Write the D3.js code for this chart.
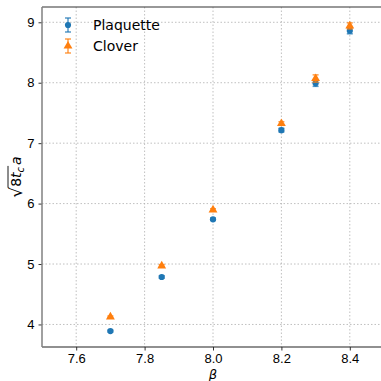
<!DOCTYPE html>
<html>
<head>
<meta charset="utf-8">
<script src="https://cdn.jsdelivr.net/npm/d3@7"></script>
<style>
  body { margin: 0; background: #fff; }
  svg { display: block; font-family: "DejaVu Sans", sans-serif; }
  .tick text { font-size: 13px; fill: #000; }
</style>
</head>
<body>
<div id="chart"></div>
<script>
const betas = [7.7, 7.85, 8.0, 8.2, 8.3, 8.4];
const plaquette = [3.89, 4.785, 5.74, 7.215, 7.99, 8.86];
const plaquetteErr = [0.015, 0.02, 0.02, 0.03, 0.05, 0.05];
const clover = [4.125, 4.97, 5.895, 7.325, 8.07, 8.94];
const cloverErr = [0.015, 0.02, 0.02, 0.03, 0.06, 0.05];
const xTicks = [7.6, 7.8, 8.0, 8.2, 8.4];
const yTicks = [4, 5, 6, 7, 8, 9];

const size = { width: 381, height: 381 };
const plot = { left: 42, right: 384, top: 7, bottom: 347 };

const svg = d3.select("#chart").append("svg")
    .attr("width", size.width)
    .attr("height", size.height);

const x = d3.scaleLinear().domain([7.5, 8.5]).range([plot.left, plot.right]);
const y = d3.scaleLinear().domain([3.627, 9.253]).range([plot.bottom, plot.top]);

// grid
const grid = svg.append("g").attr("class", "grid");
grid.selectAll(".gx").data(xTicks).enter().append("line")
    .attr("x1", d => x(d)).attr("x2", d => x(d))
    .attr("y1", plot.top).attr("y2", plot.bottom)
    .attr("stroke", "#b0b0b0").attr("stroke-width", 0.8).attr("stroke-dasharray", "1.5,2");
grid.selectAll(".gy").data(yTicks).enter().append("line")
    .attr("x1", plot.left).attr("x2", plot.right)
    .attr("y1", d => y(d)).attr("y2", d => y(d))
    .attr("stroke", "#b0b0b0").attr("stroke-width", 0.8).attr("stroke-dasharray", "1.5,2");

// axes
const xAxis = d3.axisBottom(x).tickValues(xTicks).tickFormat(d3.format(".1f")).tickSize(3.5).tickPadding(3);
const yAxis = d3.axisLeft(y).tickValues(yTicks).tickFormat(d3.format("d")).tickSize(3.5).tickPadding(4);

svg.append("g").attr("class", "x-axis")
    .attr("transform", `translate(0,${plot.bottom})`)
    .call(xAxis)
    .call(g => g.select(".domain").remove());
svg.append("g").attr("class", "y-axis")
    .attr("transform", `translate(${plot.left},0)`)
    .call(yAxis)
    .call(g => g.select(".domain").remove());
svg.selectAll(".tick line").attr("stroke", "#000").attr("stroke-width", 0.8);

// spines
svg.append("line").attr("x1", plot.left).attr("x2", plot.right).attr("y1", plot.top).attr("y2", plot.top)
    .attr("stroke", "#333").attr("stroke-width", 1.2);
svg.append("line").attr("x1", plot.left).attr("x2", plot.right).attr("y1", plot.bottom).attr("y2", plot.bottom)
    .attr("stroke", "#222").attr("stroke-width", 1.2);
svg.append("line").attr("x1", plot.left).attr("x2", plot.left).attr("y1", plot.top).attr("y2", plot.bottom)
    .attr("stroke", "#808080").attr("stroke-width", 1.5);

// data
const series = [
    { name: "Plaquette", vals: plaquette, errs: plaquetteErr, color: "#1f77b4", shape: d3.symbolCircle, size: 30 },
    { name: "Clover", vals: clover, errs: cloverErr, color: "#ff7f0e", shape: d3.symbolTriangle, size: 34 }
];

const drawErr = (g, cx, cy, top, bottom, color) => {
    g.append("line").attr("x1", cx).attr("x2", cx).attr("y1", top).attr("y2", bottom)
        .attr("stroke", color).attr("stroke-width", 1.5).attr("opacity", 0.75);
    [top, bottom].forEach(v => g.append("line")
        .attr("x1", cx - 3).attr("x2", cx + 3).attr("y1", v).attr("y2", v)
        .attr("stroke", color).attr("stroke-width", 1.5).attr("opacity", 0.75));
};

series.forEach(s => {
    const g = svg.append("g").attr("class", "series");
    s.vals.forEach((v, i) => {
        drawErr(g, x(betas[i]), y(v), y(v + s.errs[i]), y(v - s.errs[i]), s.color);
    });
    g.selectAll("path.pt").data(s.vals).enter().append("path")
        .attr("class", "pt")
        .attr("d", d3.symbol().type(s.shape).size(s.size))
        .attr("transform", (v, i) => `translate(${x(betas[i])},${y(v)})`)
        .attr("fill", s.color);
});

// legend
const legend = svg.append("g").attr("class", "legend");
series.forEach((s, i) => {
    const ly = 25 + i * 21;
    drawErr(legend, 68, ly, ly - 7, ly + 7, s.color);
    legend.append("path")
        .attr("d", d3.symbol().type(s.shape).size(s.size))
        .attr("transform", `translate(68,${ly})`)
        .attr("fill", s.color);
    legend.append("text")
        .attr("x", 93).attr("y", ly + 5)
        .attr("font-size", 14)
        .text(s.name);
});

// x label
svg.append("text")
    .attr("x", x(8.0)).attr("y", 379)
    .attr("text-anchor", "middle")
    .attr("font-size", 13)
    .attr("font-style", "italic")
    .text("β");

// y label
const yl = svg.append("g").attr("transform", "translate(21,177) rotate(-90)");
const ylt = yl.append("text").attr("font-size", 14).attr("text-anchor", "start");
ylt.append("tspan").attr("font-size", 17).attr("dy", 1).text("√");
ylt.append("tspan").attr("dy", -1).text("8");
ylt.append("tspan").attr("font-style", "italic").text("t");
ylt.append("tspan").attr("font-style", "italic").attr("font-size", 10).attr("dy", 3).text("c");
ylt.append("tspan").attr("font-style", "italic").attr("dy", -3).attr("dx", 2).text("a");
const total = ylt.node().getComputedTextLength();
const rootW = ylt.node().getSubStringLength(0, 1);
const radW = ylt.node().getSubStringLength(1, 3);
ylt.attr("x", -(total + 2) / 2);
yl.append("line")
    .attr("x1", -(total + 2) / 2 + rootW - 0.8).attr("x2", -(total + 2) / 2 + rootW + radW + 1)
    .attr("y1", -13).attr("y2", -13)
    .attr("stroke", "#000").attr("stroke-width", 0.9);
</script>
</body>
</html>
